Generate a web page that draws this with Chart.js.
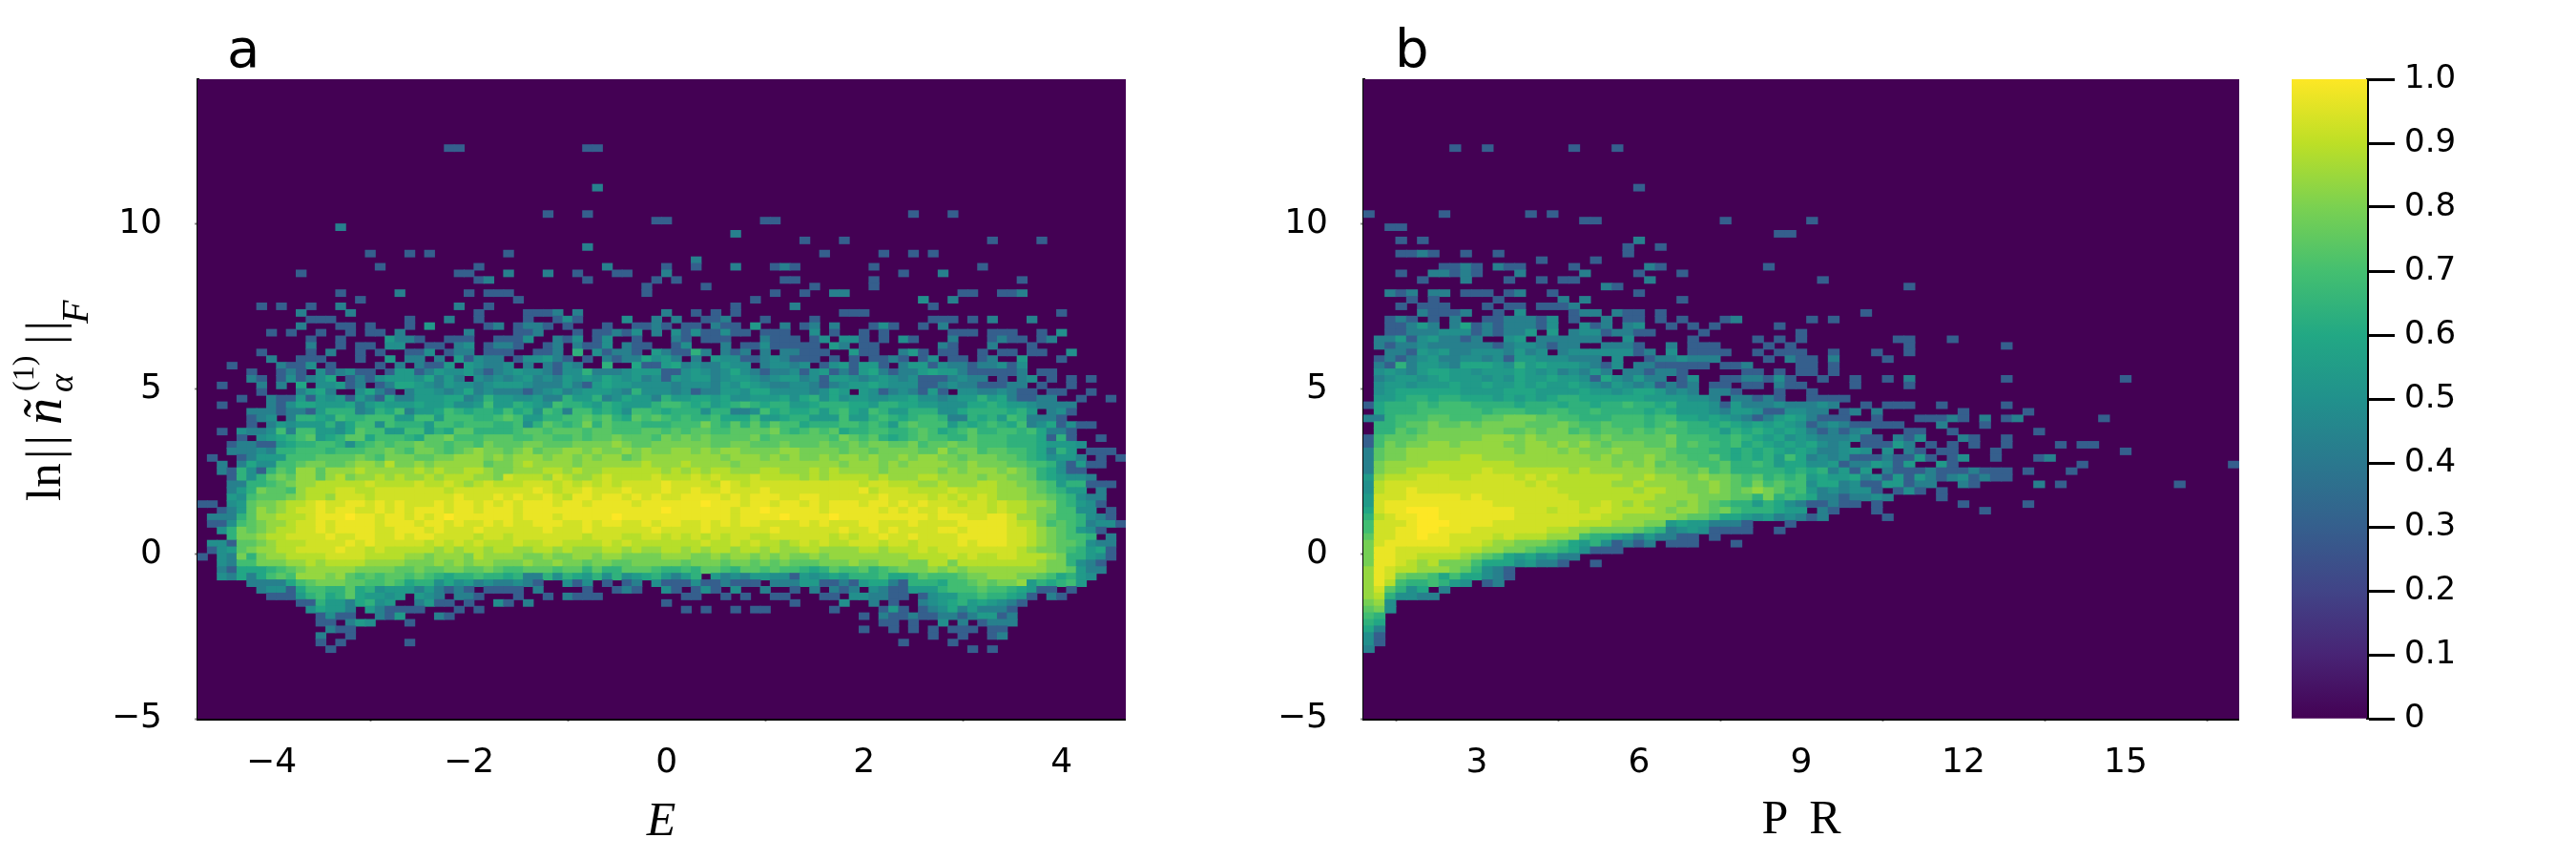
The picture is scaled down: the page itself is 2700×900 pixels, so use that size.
<!DOCTYPE html>
<html>
<head>
<meta charset="utf-8">
<title>a b histograms</title>
<script src="https://cdn.jsdelivr.net/npm/chart.js@4"></script>
<style>
  html, body { margin: 0; background: #fff; width: 2700px; height: 900px; overflow: hidden; }
  canvas { position: absolute; top: 0; }
  .txt { position: absolute; color: #000; white-space: nowrap; line-height: 1; }
  .panel { font: 56px "DejaVu Sans"; }
  .xname { font: 50px "Liberation Serif"; transform: translateX(-50%); }
  #ylab { position: absolute; left: 63px; top: 525px; transform-origin: 0 0; transform: rotate(-90deg); font-family: "Liberation Serif"; color: #000; }
  #ylab span { position: absolute; white-space: nowrap; line-height: 1; }
</style>
</head>
<body>
<canvas id="chartA" width="1180" height="900" style="left:0"></canvas>
<canvas id="chartB" width="2347" height="900" style="left:0"></canvas>
<canvas id="chartBar" width="298" height="900" style="left:2402px"></canvas>
<div class="txt panel" style="left:238px;top:18px">a</div>
<div class="txt panel" style="left:1462px;top:18px">b</div>
<div class="txt xname" style="left:693px;top:829px;font-style:italic">E</div>
<div class="txt xname" style="left:1888px;top:827px;letter-spacing:22px;padding-left:22px">PR</div>
<div id="ylab">
  <span style="left:0;top:-42px;font-size:51px">ln</span>
  <span style="left:44px;top:-42px;font-size:52px;letter-spacing:4px">||</span>
  <span style="left:80px;top:-46px;font-size:56px;font-style:italic">&ntilde;</span>
  <span style="left:114px;top:-17px;font-size:36px;font-style:italic">&alpha;</span>
  <span style="left:115px;top:-55px;font-size:32px">(1)</span>
  <span style="left:164px;top:-42px;font-size:52px;letter-spacing:4px">||</span>
  <span style="left:186px;top:-4px;font-size:40px;font-style:italic">F</span>
</div>
<script>
// histogram levels, one letter per bin: . is empty, otherwise the value at the same place in levelValues
const levelKey = 'abcdefghijklmno';
const levelValues = [0.30, 0.37, 0.43, 0.49, 0.54, 0.59, 0.64, 0.69, 0.74, 0.79, 0.84, 0.89, 0.93, 0.97, 1.0];
const colorTicks = [0, 0.1, 0.2, 0.3, 0.4, 0.5, 0.6, 0.7, 0.8, 0.9, 1.0];
const energyTicks = [-4, -2, 0, 2, 4];
const prTicks = [3, 6, 9, 12, 15];
const normTicks = [-5, 0, 5, 10];
const viridis = ['#440154', '#482475', '#414487', '#355f8d', '#2a788e', '#21918c', '#22a884', '#44bf70', '#7ad151', '#bddf26', '#fde725'];

// panel a, rows run downwards from ln = 12.4, each row 0.2 tall, each column 0.1 wide from E = -4.75
const energyRows = [
'.......... .......... .....aa... .........a a',
'','','','','',
'.......... .......... .......... .......... c',
'','','',
'.......... .......... .......... .....a...a .......... .......... .......... ..a...a',
'.......... .......... .......... .......... ......aa.. .......aa',
'.......... ....c',
'.......... .......... .......... .......... .......... ....c',
'.......... .......... .......... .......... .......... .......... .a...a.... .......... a....a',
'.......... .......... .......... .........c',
'.......... .......a.. .a.a...... .a........ .......... .......... ...a.....a ..a.a',
'.......... .......... .......... .......... .......... c',
'.......... ........a. ........a. .......... .c.....a.. a...c...ac a.......a. .........a',
'.......... a......... ......aa.. .c...c..a. ..aa...c.. .......... .......... .a...c',
'.......... .......... ........ac .........a ......a.a. .........a a.......a. .......... ...a',
'.......... .......... .......... .......... .....a.... .a........ ..a.....a',
'.......... ....a..... c......a.a aa........ .....a.... ........a. .a..cc.... .......aa. .aac',
'.......... ......a... .......... ..a....... .......... ......a... .......... ...d..c',
'......a.a. .a..c..... ......c..a .......... .......... ....a..... c......... ....a',
'.......... c....c.... ........a. ...aaac.c. .......c.. a.a.a..... .....aaa.. .......... .......a',
'.......... .aaa...... .a...c..a. ...a..ada. ...d..c.c. .aac...a.. ..a....... ....aaa.a. c...c',
'.......... c...aa.a.. .a.e.....a c.acca.a.. .a..aaca.a a.caa.e..c .ac.c...ad a..a.c',
'.......a.a ..a..a.aa. c......c.. ..aac...a. aacad.c.da daadaa.aaa ..d.a..a.a ......aaa. aaa..a.d',
'.......... .a..a....e cca..aaa.. aaad..cad. ad..a...ca .aaa...caa a.ad.dda.a .da...c... acaa.ac',
'.......... .c..a.aa.d d..aa.cd.a cca..ac.ca ad.caa..ad ...c.aadaa aaa.ec.aa. .....ca... c...a',
'......a... .a.c..a.a. .aad.acc.a aa..aac.g. dacca.ecaa gc.cac.c.c caaa..eaa. .cea.aa..a .aa.aa..d',
'.......c.. aaa...a..e .cc.c.eadc c.addeca.a .caccfdec. c.eddaacdc aaa.a.a.aa ca.ad.aa.a c..e...a',
'...a....ca ad.a....a. c.caae.edc cd.c.cadc. .g..faaefc dccedd.cdd cd.adeaeea .ceeadccac cdad',
'.....a..ac a.dacdaa.a eeaceddeca cdeddcaddg cccdeeeaad edcdfdcacc dadeacaefc accefeecaa aaac.aa',
'.....ca.ad acdf.acade eedfcec.dc dcdecdcede dfedecdaed eecdeedcde ecdaeedcde dcdaaacdcc .a.cd.a.a. a',
'..a...c.c. f.ddeac.ac ffedceddcd eeedccceca efeeddddcd ddcedfedcc ddcacdeefe dddaacdcca aacc.a..a.',
'......a... cefc..dfca .ceedcdfcd cccacdecde eedcgdddcd acceedffdd ddcdfe.eda cdcaea.ddc cdcaa.aa.. a',
'....a..caa eaedeaecaf cceeeffcdg eeddeccgee gcdfeecgee ffefddeeef dfgdfdeedd eefddcdeeg efcaacc..a ..a',
'..a....cad ffeeefcefe eefeefddeh eegfedhggf egfeeeghhg fgefghgfgg eefgggffeg gffeedddff gfeedcccc.',
'.....cccac caegggcdgf hceefhgfgg fhfgdhgchh fgfdhhgfgg gdggccdhfg ffgeghfehg eegggddfgg ggfge.cda.',
'.....acd.c ggfehgghhh eehhehhhgg hiheegghhi higfihihgh gghfffheef ggeeeheegh gfghhgccgf gehgccca..',
'.....a.ced eeegdfhhdh gggehhghhh gghdgihghj gihhhggghh hjhgigigih hfggghhghg ehihhhegfg hgfhcdfada a',
'..a.dccdhc hheedfihhe ehhegfiigg gghiihiiih iihhhiihih iihhiiiijh ghihifgghh gghihfghig ghhghfcca.',
'....a.defg hiefgiifhh hgfiijhhhi iihhiihhih iijiiihjij ijiiiijhii iiiihjihig fghihhggih hhgggfaga. .a',
'...accaaef gghhgdghih iijiihiihj iiijjiiijj jjkjiijjjj jjiijjiiij iiijiijijj iijhiijiih hhgggfeeed',
'...cccdcgg hhhghhhiij ihjjihijkj jijkijjkkj kjjkjkjjkk jkjkkjjjjk kjjjjijjij jjjiikijjh iihhgfcge. aaa',
'.a..aceeeh hhiiiijihj jjiijjkkkj kjkkkjkkjk jkkijkkkkk kkkjkkkjkj kjjkjkkjkj jkjkkjjijj jiihgfdeec .a.a',
'..c.cfddhh ijjiijkkjl jjkjkkkkki jjklkkkkjk kkkkklkkkl kkkkjkkkkk kkkkkjkkkj kjkkkkjjkj jjiihhgdae aa',
'..cagdagih kkikkklkkk kklklkkllk jjkkkllklk kllllllklk lkllkkkllk kklklkkkkj kkkkkjkjkk kjkjigfdaa',
'...agdgiji kkikljkklk lkklklllkk jmlllkmlkk lmllllmlll mlmlllmlll lklkllllkl kkkllkkkkj kkjjigfedd c',
'...ccgghij kklllllmll llmllmlklm lllmmmlmlm lmlmmmmnmm mmlnmlmmmm mmmmmmmlmm lllkklkkkl lkkjjihegg aaa',
'...cegjiih klllmmllmm mmmmmlmmmm mmmmnmlmmn mmmnmmmnmm nmmnmmmnmm mmmmmmmnlm mmllllmlll lkkkjihgee .c',
'...edhiiij kllkmmmlmm mmmmmmnmmm nmnmmnmlnn mnnmnmnmmn nnnmnmnnnm mnnmmmmmmn mmmmlmlmlm lkkkjjihgd cc',
'aa.deijjkl lmnmmnnmnm nmmmnmnnmn mnmnnnmnnm nnnnmnnnnn nonnnmnnmn nmnmnnnmnn mnmnmmmlmm lmllkkjhge da',
'..aceikjkl mmnmnnmmnm nmnnnmnnmn nnmnnnnnnn nnnnnnnonn nnnnmnnonn nnnmnnnnnm nmnmmnmmmm lmllkjjhhd d.a',
'.cccgikkll lmnnnonnmn nmnmnonnnn nnmnnnmnnn nnonnnnnnn nnnnmnnnno nnnnonnnnn nnnnmnnnmm nnmkkjihhg dca',
'.aadhijkkl mmnmnnnnmn nnmnnmnmmn mnmmnnnmmn mnnmmnmnnm mnmnmnnmmm mnmnmmmnnm mmnmmmmnnn nnmlljhihg cdda',
'..dgjijkll mmnmnnnnmm nnnmnmmmnm mmmmmnmmmn mmmmmmnmmm mnmmmmmmnm mmmmmnmmnm nmmmmnnmnn nnmmlkjihe da',
'...gjjkllm mmmnmmnnmm nmnnmmmmlm mlmmmmmmml mmmllmmlml mlmlmmllmm mmmmlmlmmn mmnmmmmnnn nnmmlkjihh g.c',
'.ddaiijkll lmmmmnmnmm mmmlmlmlml llmllmmlll lmlmllllll lmllmlmllk lmlmllmmml mmlmmmmnmn nnmmlkjiih dcc',
'.adeijkkll mmmmnmmlml llllklkllk llkkllklkk kllklkkllk lkllkllklk kllkkkkllk lllmlmmmmm mmmlkjjihg efa',
'a.dcjgjkkl lllmmmmlll lkkjkkkjlk kkkjjkjjkk jkkjjjjkkk jjkjkkjkjk jjkjkkkkkk kkllllmlml lmmlllkjgg eda',
'..dchhjjjk klkllllkkk kjjjkjkjkk jjjkjjkjji jjiijjjjji jjjijjijij iiijjjkjjk kkjjlljlll lllllkjjgd ca',
'..cafffghi jkkkkkjjjj iijiijjiij ihhiiihiig iggiiihggh giihgiihih hgfgihhigh ijjjkjkjkk kkkkkkjjie cc',
'..dcfcfhih kkkjkihihi ihihgfgghg gfgccgdgfe gdgdefgece g.ecdceedd aedefegggh ffgihhhijj kkkjjihfge d',
'.....ccccf hijjjiihhi hfggdfdecd ccdca..dad .a.ac.daaa daacaaa.cc ceeaacaeff cagggfhhij ijjkegfghe',
'......cdda fhhggifgde eececaca.a aaa.c....a ..aca..da. ada.d..c.. a.c.cac.dc aaeeeghhhi hhgfeaa.a.',
'.......aaa eghfgifeed e.edc.cca. ..a..a.caa a........a a..a.a..aa ...aa.ddcc aa.adeeggh ggfea.ca..',
'.......... aageecfgde ..ceaa.a.. da.c...... .......a.. .......... a....d..c. a..cdefgef edca',
'.......... .dfeec.eca aaa...a.a. .......... .........a .a..a.aa.. ....a....a ea.acdfcec cca',
'.......... ..adaa..ca e...ca.... .......... .......... .......... .......a.c aacaaccace eac',
'.......... ..aa.ced.. .a........ .......... .......... .......... .........a a.a..d.c.a ccc',
'.......... ...caa.... .......... .......... .......... .......... .......a.. a.a.a.aaa. aa',
'.......... ..c..a.... .......... .......... .......... .......... .......... ....a..a.. ac',
'.......... ..a.a..... .a........ .......... .......... .......... .......... .a....a',
'.......... ...a...... .......... .......... .......... .......... .......... ........a. a'
];

// panel b, same rows, each column 0.2 wide from PR = 0.9
const prRows = [
'........a. .a.......a ...a',
'','','','','',
'.......... .......... .....a',
'','','',
'a......a.. .....a.a',
'.......... .......... aa........ ...a...... .a',
'..aa',
'.......... .......... .......... ........aa',
'...a.a.... .......... .....c',
'.......... .......... ....a..a',
'...aaca..a ..a....... ....a',
'.......... ......a... .a',
'.......aac a.caa....a ......ca.. .......a',
'...a..ccac a...c..... c....a...a',
'.....a...c ...a..a.aa ......c... .......... ..a',
'.......... .......... ..ca...... .......... .......... a',
'..cac.cc.a aa.ac..a.. .....a',
'....a.a... ..a.....c. c........a',
'...a.aaa.. .a.aa.aaac',
'.....caaac ..a.d....a cc.caa.a.. .......... ......a',
'..aca.a.c. .aacccad.a ..c.aa.a.a ...ac..... .a.a',
'..aacec.cf acacccad.. dac.cd..a. a.a.....a.',
'..aacccddd acacce.e.c ddaccaa... .a........ a',
'.cceadecca c..de.cccc cc..d..... a.....a.a. a........a a...a',
'.caccdcccc ccacddcacc ..ccca..c. aaa....a.a .......... a........a',
'..ccaedecc dddcecd.cd dddddac.d. aaaa..a.aa a..a...a.. a',
'.acacdeccd dcdaeedddc cc.d..accd ccc....a.c aa.c....a',
'.cagceedcf ffedgefeee dcad.ccaaa aa.aac.... aa.a',
'.dedceffee deeefedecd cec.ccacca .....aa.a. aa.a',
'.cdeedefee ededfeefee dafdcecc.a d..aaccada ..a..a..a. c........a .......... a',
'.deedeeefe efeefefeef edcedcdaca c.aa.aa.ca a....a.... a',
'.deffffffe eeefffeeee feedeffecd c.cca...a. .a',
'.eefggfggf ffefefefgg ffffffeeee ddc.ccaca. .aaaa',
'afggghghhh ggggfgggfg gfgghggfge eedaecccdc ccdc..a.aa a..a.....a',
'.fggghhhhh hghhhgghhg ghggggfgfe eedceedaad dcc.ac.c.. .....a.... .a',
'ccghhhiihh hiijjjiihh ggghhhghhf fefedcacef ecaaa..a.. .aaaca.c.a c.......a.',
'.gghiijiij ijjjjiiiji hhihhhghih ggfgfefefe dacdcaaaaa ...c...a..',
'.ggihijjjj jjjiijijjh ihiihihihh gggegfgfef ecacacd... aa..a..... ..a',
'ahiiijjjjj jkkkjkjjjj jijiiiiijh hhgghgfefd edcccdaa.c ad...ca..a',
'ahjijjkkjk kkkjjkkjkj kjijjjiijh ihhghfgfef efdcd.aaae c.a.a.a..a ....a.aa',
'cijjkkkkkk kkkkjkkkjk jjjkjjjjih hhggfgfgfe feccded.d. ca.aa...a. .......... a',
'cijjkkkkkl lkkkkkkkkk kjkjjjkjii hhigfgfgeh fcdcdaaaca aea.ad..a. ..ac',
'cjkkkkllll llllkkkkkk kkkjkjkiji ihhigghgef fddeacceda e..ea..... ......a... .......... a',
'cjkkllllll lmlllllllk lkkkkkkjjj ijhigggggf gfgceae.ca aacaaacaaa .a...a',
'eklllmmmll mmmmlmlmll llllkklkkj jkjjihighg hefeefcdae aecacdacaa',
'dlmmmmmmmm mmmmmlmlll lllkklkkkk jjkjihjhih hdffcdaaee acc..ca... ..c.a..... .....a',
'dlmmnmmmmm mmmmmmmmll lllllkllkk jjkjijkjig hecdcdda.a da.a......',
'emmmnnnnnm nmmmmmmmml lllllllkkk kjjjiigjgh gfccaccdc. ...a',
'emnnnnnnnn nnmmmmmmmm llmlklkkkj kjihggegfd caacaa.a.. .....a.... .a',
'fmnnooonnn nnnnmmmlmm lmmllllkjk kjijhgggfe e.ca...a.. .......a',
'glmnnoonnn nnnnmmmmmm mmllkkkkkj iihffedecd cac.....a.',
'hmmmnooonn nnmmmmmmmm lllkkkjjef eeccca...a',
'hmmnnoonnn mmmmmmmllk kjjjjihgcd edaaaa..a.',
'immnnonnmm mmlmlllkkk hggfececca a.a',
'jmnnnnnnmm mlkkjjjihf egdacac.aa a...a',
'jnnmmmmmml lkkjjihhgf daaa',
'jnnmmllllk jihfefdecc',
'jnnmlkljjj hfffdecca. .a',
'knmllkkkji gdca',
'knmjiihfhf fdca',
'knlhgghged .ac',
'kmigdf.c',
'klgddcc',
'jkd',
'ijd',
'hg',
'gf',
'fc',
'da',
'da',
'c'
];

// a hair above 12.4 so that no bar ends exactly on zero, which floating bars dislike
const firstRowTop = 12.41;
const rowHeight = 0.2;

function levelColor(v) {
  const i = Math.min(Math.floor(v * 10), 9);
  const t = v * 10 - i;
  const a = viridis[i], b = viridis[i + 1];
  const mix = k => Math.round(parseInt(a.substr(k, 2), 16) * (1 - t) + parseInt(b.substr(k, 2), 16) * t);
  return `rgb(${mix(1)},${mix(3)},${mix(5)})`;
}

// turns the letter rows into floating bars, one per filled bin
function cellsFrom(rows, xStart, binWidth) {
  const cells = [];
  rows.forEach((raw, r) => {
    const row = raw.replace(/\s/g, '');
    const top = firstRowTop - r * rowHeight;
    for (let c = 0; c < row.length; c++) {
      const idx = levelKey.indexOf(row[c]);
      if (idx < 0) continue;
      cells.push({
        x: +(xStart + (c + 0.5) * binWidth).toFixed(3),
        y: [+(top - rowHeight).toFixed(2), +top.toFixed(2)],
        v: levelValues[idx]
      });
    }
  });
  return cells;
}

const plotBackground = {
  id: 'plotBackground',
  beforeDatasetsDraw(chart) {
    const { ctx, chartArea: a } = chart;
    ctx.save();
    ctx.fillStyle = viridis[0];
    ctx.fillRect(a.left, a.top, a.width, a.height);
    ctx.restore();
  }
};

const tickFont = { family: 'DejaVu Sans', size: 36 };
const minusSign = v => String(v).replace('-', '\u2212');

function makePanel(id, rows, xMin, xMax, binWidth, xTicks, plotLeft, leftPad) {
  return new Chart(document.getElementById(id), {
    type: 'bar',
    data: { datasets: [{
      data: cellsFrom(rows, xMin, binWidth),
      backgroundColor: c => levelColor(c.raw.v),
      barPercentage: 1,
      categoryPercentage: 1,
      inflateAmount: 0.5
    }] },
    plugins: [plotBackground],
    options: {
      responsive: false,
      animation: false,
      layout: { padding: { top: 83, left: leftPad, right: 0, bottom: 0 } },
      plugins: { legend: { display: false }, tooltip: { enabled: false } },
      scales: {
        x: {
          type: 'linear', min: xMin, max: xMax, offset: false,
          afterBuildTicks: s => { s.ticks = xTicks.map(v => ({ value: v })); },
          afterFit: s => { s.height = 147; },
          grid: { drawOnChartArea: false, color: '#888', tickLength: 3, tickWidth: 2 },
          border: { color: '#000', width: 3 },
          ticks: { font: tickFont, color: '#000', padding: 22, maxRotation: 0, callback: minusSign }
        },
        y: {
          type: 'linear', min: -5, max: 14.4,
          afterBuildTicks: s => { s.ticks = normTicks.map(v => ({ value: v })); },
          afterFit: s => { s.width = plotLeft - leftPad; },
          grid: { drawOnChartArea: false, color: '#888', tickLength: 3, tickWidth: 2 },
          border: { color: '#000', width: 3 },
          ticks: { font: tickFont, color: '#000', padding: 34, callback: minusSign }
        }
      }
    }
  });
}

makePanel('chartA', energyRows, -4.75, 4.65, 0.1, energyTicks, 207, 0);
makePanel('chartB', prRows, 0.9, 17.1, 0.2, prTicks, 1429, 1180);

// colour bar: a single floating bar from 0 to 1 with the colormap as gradient
new Chart(document.getElementById('chartBar'), {
  type: 'bar',
  data: {
    labels: [''],
    datasets: [{
      data: [[0, 1]],
      barPercentage: 1,
      categoryPercentage: 1,
      backgroundColor: c => {
        const a = c.chart.chartArea;
        if (!a) return viridis[0];
        const g = c.chart.ctx.createLinearGradient(0, a.bottom, 0, a.top);
        viridis.forEach((col, i) => g.addColorStop(i / 10, col));
        return g;
      }
    }]
  },
  options: {
    responsive: false,
    animation: false,
    layout: { padding: { top: 83, bottom: 147, left: 0, right: 0 } },
    plugins: { legend: { display: false }, tooltip: { enabled: false } },
    scales: {
      x: { display: false },
      y: {
        position: 'right', min: 0, max: 1,
        afterBuildTicks: s => { s.ticks = colorTicks.map(v => ({ value: v })); },
        afterFit: s => { s.width = 219; },
        grid: { drawOnChartArea: false, color: '#000', tickLength: 29, tickWidth: 3 },
        border: { color: '#000', width: 3 },
        ticks: { font: { family: 'DejaVu Sans', size: 34 }, color: '#000', padding: 10,
                 callback: v => (v === 0 ? '0' : v.toFixed(1)) }
      }
    }
  }
});
</script>
</body>
</html>
